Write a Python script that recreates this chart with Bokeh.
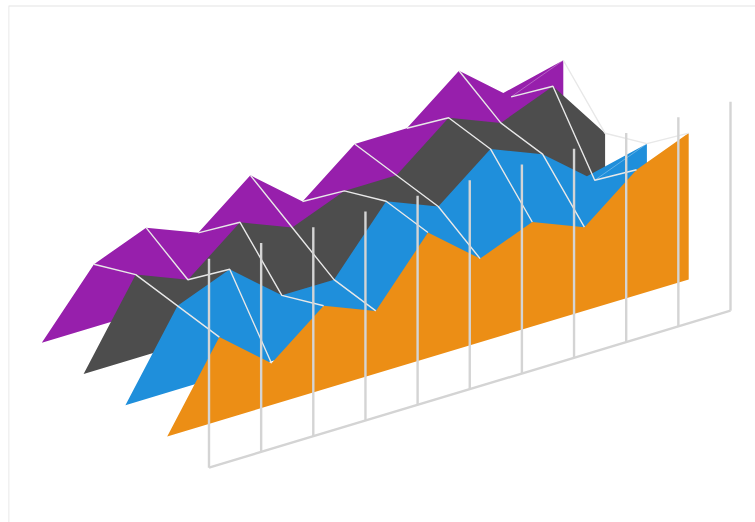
from bokeh.plotting import figure
from bokeh.models import Range1d
from bokeh.embed import file_html
from bokeh.resources import INLINE

categories = list(range(11))
orange_values = [0, 4, 2, 4, 3, 6, 4, 5, 4, 6, 7]
blue_values = [0, 4, 5, 3, 3, 6, 5, 7, 6, 4, 5]
dark_values = [0, 4, 3, 5, 4, 5, 5, 7, 6, 7, 4]
purple_values = [0, 3, 4, 3, 5, 3, 5, 5, 7, 5, 6]
value_max = 10

series = [purple_values, dark_values, blue_values, orange_values]
colors = ["#971fac", "#4d4d4d", "#1f8fdb", "#ec8e15"]
depths = [3, 2, 1, 0]

# oblique projection of (category, depth, value) on the page
X0, Y0 = 166.7, 435.9
CAT_DX, CAT_DY = 52.15, -15.7
DEP_DX, DEP_DY = -41.8, -31.25
VAL_DY = -20.9
SEAM = 0.85


def proj(i, d, v):
    return X0 + CAT_DX * i + DEP_DX * d, Y0 + CAT_DY * i + DEP_DY * d + VAL_DY * v


p = figure(width=747, height=517, output_backend="svg", toolbar_location=None,
           x_range=Range1d(8, 755), y_range=Range1d(522, 5),
           x_axis_type=None, y_axis_type=None, min_border=0,
           outline_line_color=None, background_fill_color="white",
           border_fill_color="white")
p.grid.visible = False
p.styles = {"position": "absolute", "left": "8px", "top": "5px"}

# card border
p.line([8.0, 8.0, 755], [522, 5.2, 5.2], line_color="#e4e4e4", line_width=1.6)

# series ribbons, back to front
for vals, col, d in zip(series, colors, depths):
    pts = [proj(i, d, v) for i, v in zip(categories, vals)]
    seam = vals[-2] < vals[-3] and vals[-1] > vals[-2]
    top = list(pts)
    if seam:
        a, b = pts[-3], pts[-2]
        top[-2] = (a[0] + (b[0] - a[0]) * SEAM, a[1] + (b[1] - a[1]) * SEAM)
    base = [proj(categories[-1], d, 0)]
    xs = [q[0] for q in top + base]
    ys = [q[1] for q in top + base]
    p.patch(xs, ys, fill_color=col, line_color=None)
    if seam:
        p.line([pts[-2][0], pts[-1][0]], [pts[-2][1], pts[-1][1]],
               line_color="white", line_alpha=0.3, line_width=1)

# lines across the depth, joining the series at each category
for idx, i in enumerate(categories):
    if i == 0:
        continue
    cx, cy = [], []
    for vals, d in zip(series, depths):
        x, y = proj(i, d, vals[idx])
        cx.append(x)
        cy.append(y)
    p.line(cx, cy, line_color="#e8e8e8", line_width=1.4)

# value gridlines on the front plane
for i in categories:
    bx, by = proj(i, -1, 0)
    tx, ty = proj(i, -1, value_max)
    p.line([bx, tx], [by, ty], line_color="#d4d4d4", line_width=2.4)

# floor line
b0 = proj(categories[0], -1, 0)
b1 = proj(categories[-1], -1, 0)
p.line([b0[0], b1[0]], [b0[1], b1[1]], line_color="#d4d4d4", line_width=2.4)

open("out.html", "w").write(file_html(p, INLINE))
